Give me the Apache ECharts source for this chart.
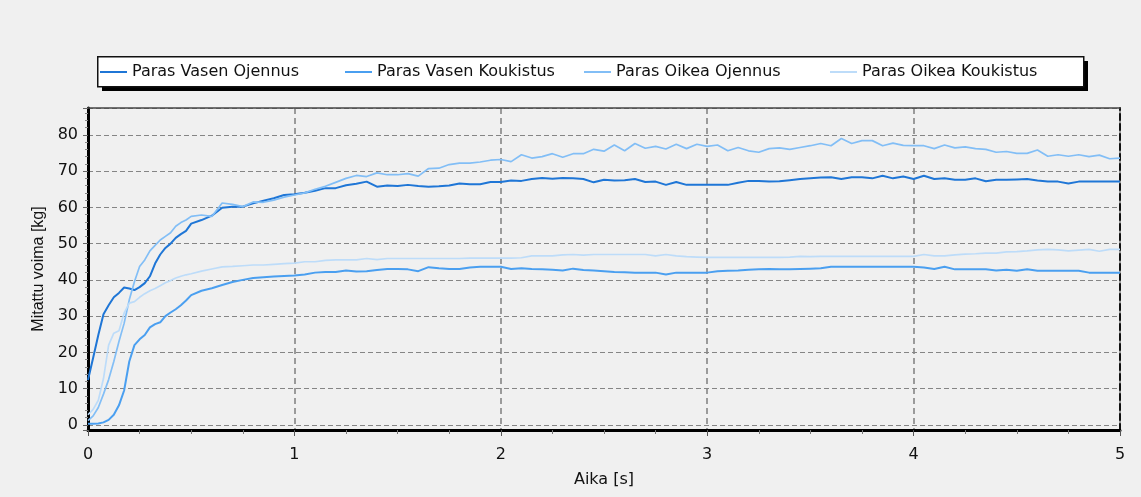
<!DOCTYPE html>
<html>
<head>
<meta charset="utf-8">
<title>Mitattu voima</title>
<script src="https://cdn.jsdelivr.net/npm/echarts@6/dist/echarts.min.js"></script>
<style>
  html, body { margin: 0; padding: 0; background: #f0f0f0; }
  #chart { width: 1141px; height: 497px; }
</style>
</head>
<body>
<div id="chart"></div>
<script>
// Sample times (s)
const times = [
  0, 0.025, 0.05, 0.075, 0.1, 0.125, 0.15, 0.175, 0.2, 0.225, 0.25, 0.275, 0.3, 0.325, 0.35, 0.375, 0.4, 0.425, 0.45, 0.475, 0.5,
  0.55, 0.6, 0.65, 0.7, 0.75, 0.8, 0.85, 0.9, 0.95, 1.0,
  1.05, 1.1, 1.15, 1.2, 1.25, 1.3, 1.35, 1.4, 1.45, 1.5, 1.55, 1.6, 1.65, 1.7, 1.75, 1.8, 1.85, 1.9, 1.95, 2.0,
  2.05, 2.1, 2.15, 2.2, 2.25, 2.3, 2.35, 2.4, 2.45, 2.5, 2.55, 2.6, 2.65, 2.7, 2.75, 2.8, 2.85, 2.9, 2.95, 3.0,
  3.05, 3.1, 3.15, 3.2, 3.25, 3.3, 3.35, 3.4, 3.45, 3.5, 3.55, 3.6, 3.65, 3.7, 3.75, 3.8, 3.85, 3.9, 3.95, 4.0,
  4.05, 4.1, 4.15, 4.2, 4.25, 4.3, 4.35, 4.4, 4.45, 4.5, 4.55, 4.6, 4.65, 4.7, 4.75, 4.8, 4.85, 4.9, 4.95, 5.0
];

// Measured force (kg)
const vasenOjennus = [
  12.4, 18.5, 24.8, 30.5, 33.0, 35.2, 36.4, 37.9, 37.6, 37.2, 38.0, 39.1, 41.0, 44.5, 47.0, 48.8, 50.0, 51.6, 52.6, 53.5, 55.5,
  56.5, 57.7, 59.9, 60.2, 60.2, 61.1, 61.8, 62.5, 63.4, 63.6,
  64.0, 64.6, 65.3, 65.3, 66.1, 66.5, 67.1, 65.7, 66.0, 65.9, 66.2, 65.9, 65.7, 65.8, 66.0, 66.6, 66.4, 66.4, 67.0, 67.0,
  67.4, 67.3, 67.8, 68.1, 67.9, 68.1, 68.0, 67.8, 66.9, 67.6, 67.4, 67.5, 67.8, 67.0, 67.1, 66.2, 67.0, 66.2, 66.2, 66.2,
  66.2, 66.2, 66.8, 67.3, 67.3, 67.1, 67.2, 67.5, 67.8, 68.0, 68.2, 68.3, 67.8, 68.3, 68.3, 68.0, 68.7, 68.0, 68.5, 67.8,
  68.7, 67.8, 68.0, 67.6, 67.6, 68.0, 67.2, 67.6, 67.6, 67.7, 67.8, 67.4, 67.1, 67.1, 66.6, 67.1, 67.1, 67.1, 67.1, 67.1
];
const vasenKoukistus = [
  0.3, 0.3, 0.4, 0.7, 1.4, 2.8, 5.4, 9.5, 17.5, 22.0, 23.6, 24.8, 26.9, 27.8, 28.3, 30.0, 31.0, 31.9, 33.0, 34.3, 35.8,
  37.0, 37.7, 38.6, 39.4, 40.0, 40.5, 40.7, 40.9, 41.1, 41.2,
  41.5, 42.0, 42.2, 42.2, 42.6, 42.3, 42.4, 42.7, 43.0, 43.0, 42.9, 42.4, 43.5, 43.2, 43.0, 43.0, 43.4, 43.6, 43.6, 43.6,
  43.0, 43.2, 43.0, 42.9, 42.8, 42.6, 43.1, 42.7, 42.6, 42.4, 42.2, 42.1, 42.0, 42.0, 42.0, 41.5, 42.0, 42.0, 42.0, 42.0,
  42.4, 42.5, 42.6, 42.8, 42.9, 43.0, 42.9, 42.9, 43.0, 43.1, 43.2, 43.6, 43.6, 43.6, 43.6, 43.6, 43.6, 43.6, 43.6, 43.6,
  43.4, 43.0, 43.6, 42.9, 42.9, 42.9, 42.9, 42.6, 42.8, 42.5, 42.9, 42.5, 42.5, 42.5, 42.5, 42.5, 42.0, 42.0, 42.0, 42.0
];
const oikeaOjennus = [
  1.2, 2.5, 4.8, 8.5, 12.5, 17.5, 23.0, 28.0, 34.5, 39.5, 43.7, 45.5, 48.0, 49.5, 51.0, 52.0, 53.0, 54.8, 55.8, 56.5, 57.5,
  57.9, 57.5, 61.2, 60.8, 60.2, 61.5, 61.4, 62.0, 62.8, 63.4,
  64.0, 65.0, 65.8, 66.9, 68.0, 68.8, 68.5, 69.5, 69.0, 69.0, 69.3, 68.6, 70.7, 70.8, 71.8, 72.2, 72.2, 72.5, 73.0, 73.2,
  72.6, 74.5, 73.6, 74.0, 74.8, 73.8, 74.8, 74.8, 76.0, 75.5, 77.2, 75.6, 77.6, 76.3, 76.8, 76.1, 77.4, 76.2, 77.4, 76.8,
  77.2, 75.6, 76.5, 75.6, 75.2, 76.2, 76.4, 76.0, 76.5, 77.0, 77.6, 77.0, 79.0, 77.6, 78.4, 78.4, 77.0, 77.7, 77.1, 77.0,
  77.0, 76.2, 77.2, 76.4, 76.7, 76.2, 76.0, 75.2, 75.4, 74.9, 74.9, 75.8, 74.1, 74.5, 74.1, 74.5, 74.0, 74.4, 73.4, 73.6
];
const oikeaKoukistus = [
  2.8, 4.3, 6.8, 12.8, 22.0, 25.3, 26.0, 30.8, 33.6, 34.0, 35.2, 36.2, 37.0, 37.6, 38.4, 39.2, 39.8, 40.5, 41.0, 41.4, 41.7,
  42.4, 43.0, 43.6, 43.7, 43.9, 44.1, 44.1, 44.3, 44.5, 44.6,
  45.0, 45.0, 45.4, 45.5, 45.5, 45.5, 45.9, 45.6, 45.9, 45.9, 45.9, 45.9, 45.9, 45.9, 45.9, 45.9, 46.0, 46.0, 46.0, 46.0,
  46.0, 46.1, 46.6, 46.6, 46.6, 46.9, 47.0, 46.8, 47.0, 47.0, 47.0, 47.0, 47.0, 47.0, 46.6, 47.0, 46.6, 46.4, 46.3, 46.2,
  46.2, 46.2, 46.2, 46.2, 46.2, 46.2, 46.2, 46.3, 46.5, 46.4, 46.5, 46.5, 46.5, 46.5, 46.5, 46.5, 46.5, 46.5, 46.5, 46.5,
  47.0, 46.6, 46.6, 46.9, 47.1, 47.2, 47.4, 47.4, 47.7, 47.8, 48.0, 48.3, 48.4, 48.3, 48.0, 48.2, 48.4, 47.9, 48.4, 48.4
];

const seriesNames = ['Paras Vasen Ojennus', 'Paras Vasen Koukistus', 'Paras Oikea Ojennus', 'Paras Oikea Koukistus'];
const seriesValues = [vasenOjennus, vasenKoukistus, oikeaOjennus, oikeaKoukistus];
const seriesColors = ['#1f76d6', '#4a9ff0', '#82bef6', '#bddcf9'];
const seriesWidths = [2, 2, 1.7, 1.7];

const xAxisName = 'Aika [s]';
const yAxisName = 'Mitattu voima [kg]';

const textFont = 'DejaVu Sans';
const legendLefts = [100, 345, 584, 830];

const chart = echarts.init(document.getElementById('chart'), null, { renderer: 'canvas' });

const gridDash = { color: '#858585', width: 1.2, type: [5, 3] };

chart.setOption({
  animation: false,
  backgroundColor: '#f0f0f0',
  graphic: [
    { type: 'rect', left: 102, top: 61, z: 0, shape: { width: 986, height: 30 }, style: { fill: '#000' } },
    { type: 'rect', left: 97, top: 56, z: 1, shape: { width: 986, height: 30 }, style: { fill: '#fff', stroke: '#111', lineWidth: 1.5 } }
  ],
  // one legend block per entry so each sits at its own spot inside the framed box
  legend: seriesNames.map((n, i) => ({
    data: [n],
    left: legendLefts[i],
    top: 64,
    padding: 0,
    icon: 'rect',
    itemWidth: 27,
    itemHeight: 2,
    selectedMode: false,
    z: 10,
    textStyle: { fontFamily: textFont, fontSize: 16, color: '#111' }
  })),
  grid: { left: 88, right: 21, top: 108, bottom: 67, containLabel: false },
  xAxis: [
    {
      type: 'value', min: 0, max: 5, interval: 1, position: 'bottom',
      name: xAxisName, nameLocation: 'middle', nameGap: 42,
      nameTextStyle: { fontFamily: textFont, fontSize: 16, color: '#111' },
      axisLine: { show: true, onZero: false, lineStyle: { color: '#000', width: 3 } },
      axisTick: { show: true, length: 6, lineStyle: { color: '#555', width: 1 } },
      minorTick: { show: true, splitNumber: 4, length: 4, lineStyle: { color: '#777', width: 1 } },
      splitLine: { show: true, lineStyle: { color: '#858585', width: 1.6, type: [6, 4] } },
      axisLabel: { margin: 17, fontFamily: textFont, fontSize: 16, color: '#111' }
    },
    {
      type: 'value', min: 0, max: 5, position: 'top',
      axisLine: { show: true, onZero: false, lineStyle: { color: '#444', width: 1.5 } },
      axisTick: { show: false }, axisLabel: { show: false }, splitLine: { show: false }
    }
  ],
  yAxis: [
    {
      type: 'value', min: -1.4, max: 87.4, splitNumber: 9, position: 'left',
      name: yAxisName, nameLocation: 'middle', nameGap: 40,
      nameTextStyle: { fontFamily: 'Liberation Sans', fontSize: 16, color: '#111' },
      axisLine: { show: true, onZero: false, lineStyle: { color: '#000', width: 3 } },
      axisTick: { show: true, length: 5, lineStyle: { color: '#666', width: 1 } },
      minorTick: { show: true, splitNumber: 5, length: 3, lineStyle: { color: '#888', width: 1 } },
      splitLine: { show: true, lineStyle: gridDash },
      axisLabel: { margin: 10, showMinLabel: false, showMaxLabel: false, fontFamily: textFont, fontSize: 16, color: '#111' }
    },
    {
      type: 'value', min: -1.4, max: 87.4, position: 'right',
      axisLine: { show: true, onZero: false, lineStyle: { color: '#111', width: 2, type: [6, 4] } },
      axisTick: { show: false }, axisLabel: { show: false }, splitLine: { show: false }
    }
  ],
  series: seriesNames.map((n, i) => ({
    name: n,
    type: 'line',
    xAxisIndex: 0,
    yAxisIndex: 0,
    symbol: 'none',
    color: seriesColors[i],
    lineStyle: { color: seriesColors[i], width: seriesWidths[i] },
    data: times.map((t, k) => [t, seriesValues[i][k]])
  }))
});
</script>
</body>
</html>
